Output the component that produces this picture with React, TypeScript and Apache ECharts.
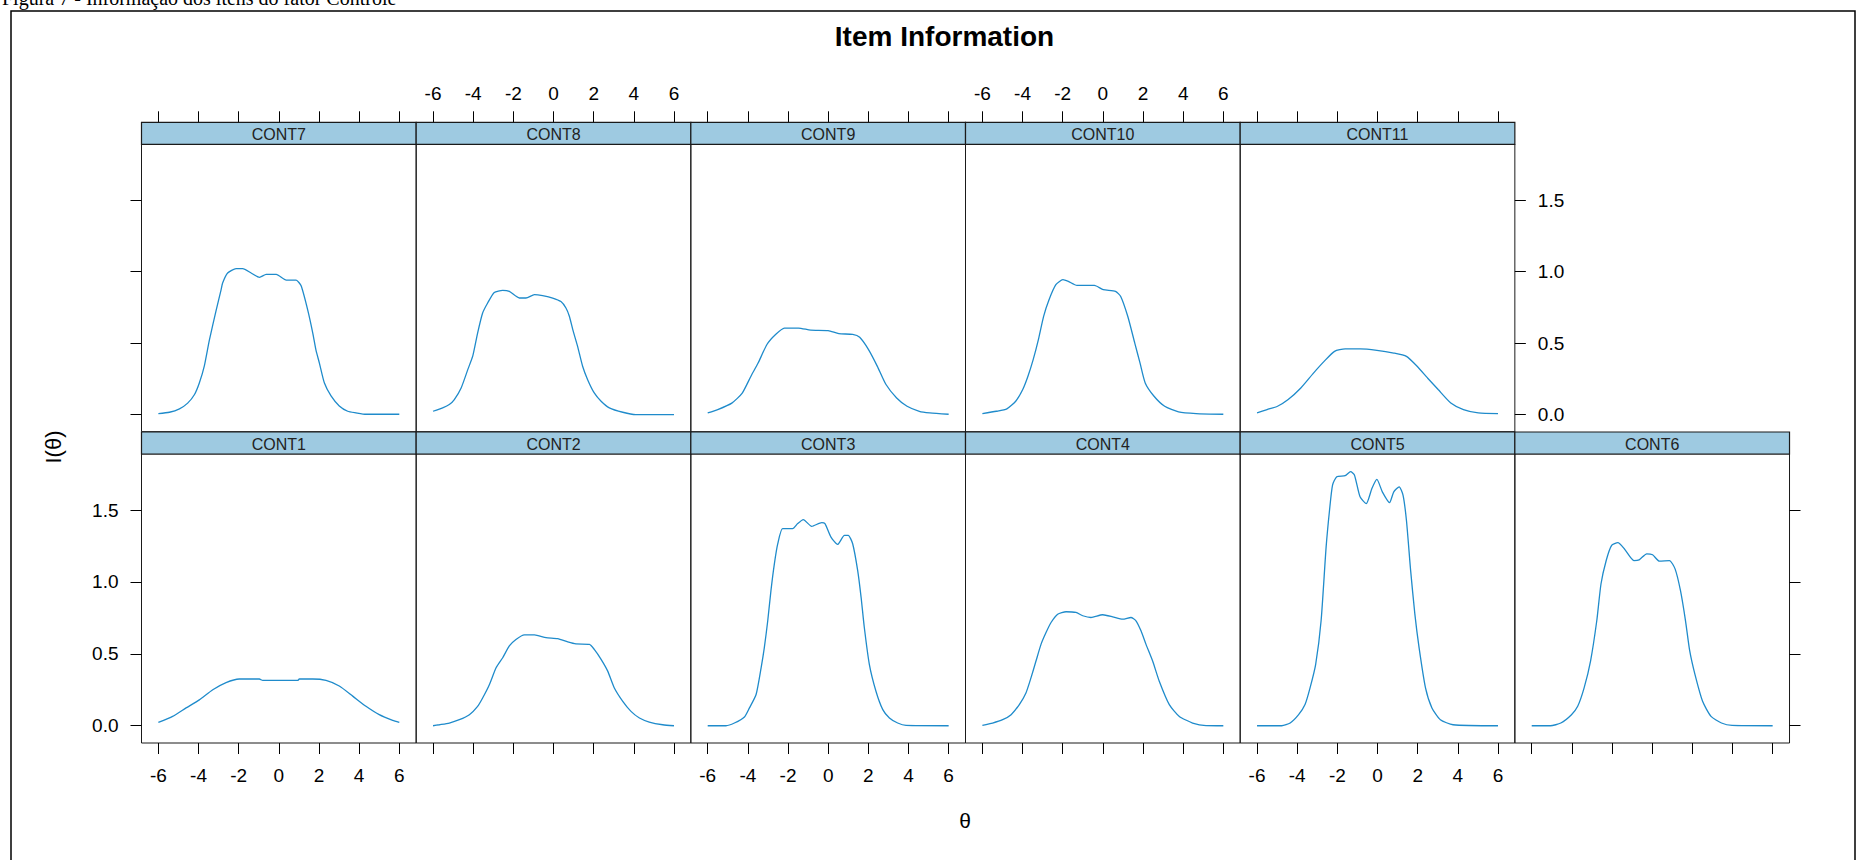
import { useEffect, useRef } from "react";
import * as echarts from "echarts";

// ---- data (theta, information) ----
const THETA_TICKS = [-6, -4, -2, 0, 2, 4, 6];
const INFO_TICKS = [0, 0.5, 1, 1.5];
const TOP_ROW = ["CONT7", "CONT8", "CONT9", "CONT10", "CONT11"];
const BOTTOM_ROW = ["CONT1", "CONT2", "CONT3", "CONT4", "CONT5", "CONT6"];

const CONT1 = [[-6,0.023],[-5.29,0.065],[-4.62,0.124],[-3.96,0.18],[-3.29,0.25],[-2.63,0.3],[-1.97,0.325],[-0.97,0.325],[-0.8,0.315],[0.94,0.315],[1.02,0.325],[1.69,0.325],[2.35,0.315],[3.01,0.276],[3.68,0.206],[4.34,0.135],[5,0.077],[5.67,0.037],[6,0.023]];
const CONT2 = [[-6,0.0],[-5.68,0.007],[-5.19,0.019],[-4.69,0.042],[-4.19,0.077],[-3.78,0.135],[-3.53,0.193],[-3.19,0.287],[-2.86,0.403],[-2.53,0.473],[-2.2,0.555],[-1.87,0.6],[-1.45,0.632],[-0.95,0.632],[-0.37,0.613],[0.21,0.606],[0.71,0.583],[1.12,0.569],[1.79,0.566],[2.03,0.531],[2.37,0.462],[2.7,0.38],[3.03,0.263],[3.45,0.17],[3.86,0.1],[4.28,0.054],[4.77,0.026],[5.44,0.007],[6,0.0]];
const CONT3 = [[-6,0],[-5.09,0],[-4.67,0.019],[-4.17,0.061],[-3.92,0.124],[-3.59,0.217],[-3.34,0.403],[-3.18,0.543],[-3.01,0.73],[-2.85,0.94],[-2.68,1.126],[-2.51,1.266],[-2.27,1.371],[-1.77,1.371],[-1.52,1.406],[-1.24,1.434],[-0.82,1.387],[-0.32,1.413],[-0.16,1.406],[0.14,1.312],[0.47,1.261],[0.81,1.324],[1.0,1.324],[1.22,1.266],[1.47,1.079],[1.64,0.893],[1.8,0.683],[2.05,0.427],[2.38,0.24],[2.72,0.112],[3.05,0.054],[3.46,0.019],[3.88,0.002],[6,0]];
const CONT4 = [[-6,0.003],[-5.49,0.019],[-4.99,0.042],[-4.57,0.077],[-4.16,0.147],[-3.83,0.228],[-3.58,0.333],[-3.33,0.45],[-3.08,0.566],[-2.83,0.648],[-2.58,0.718],[-2.25,0.776],[-1.83,0.793],[-1.34,0.788],[-1.0,0.765],[-0.59,0.753],[-0.01,0.772],[0.49,0.758],[0.99,0.741],[1.4,0.753],[1.65,0.73],[1.9,0.66],[2.15,0.566],[2.48,0.45],[2.81,0.31],[3.31,0.147],[3.81,0.065],[4.47,0.019],[5.14,0.001],[6,0]];
const CONT5 = [[-6,0],[-4.77,0],[-4.35,0.019],[-3.93,0.077],[-3.61,0.147],[-3.36,0.263],[-3.08,0.427],[-2.81,0.73],[-2.56,1.242],[-2.39,1.499],[-2.24,1.674],[-2.03,1.732],[-1.61,1.739],[-1.34,1.767],[-1.15,1.744],[-0.87,1.592],[-0.56,1.545],[-0.28,1.65],[-0.03,1.713],[0.24,1.627],[0.6,1.552],[0.81,1.627],[1.08,1.662],[1.27,1.604],[1.44,1.429],[1.65,1.079],[1.86,0.776],[2.07,0.543],[2.39,0.263],[2.71,0.124],[3.13,0.042],[3.76,0.007],[6,0]];
const CONT6 = [[-6,0],[-5.07,0],[-4.55,0.019],[-4.02,0.077],[-3.71,0.135],[-3.39,0.263],[-3.07,0.45],[-2.76,0.73],[-2.55,0.986],[-2.29,1.149],[-2.02,1.254],[-1.71,1.273],[-1.39,1.231],[-0.91,1.149],[-0.65,1.154],[-0.27,1.196],[0.02,1.189],[0.36,1.145],[0.86,1.149],[1.14,1.091],[1.41,0.939],[1.66,0.73],[1.87,0.52],[2.13,0.357],[2.51,0.17],[2.93,0.065],[3.45,0.019],[3.98,0.002],[6,0]];
const CONT7 = [[-6,0.007],[-5.45,0.016],[-4.95,0.04],[-4.54,0.08],[-4.2,0.14],[-3.96,0.22],[-3.71,0.34],[-3.46,0.52],[-3.12,0.73],[-2.88,0.87],[-2.8,0.92],[-2.55,0.99],[-2.13,1.02],[-1.8,1.02],[-1.38,0.99],[-0.96,0.96],[-0.63,0.98],[-0.13,0.98],[0.37,0.94],[0.86,0.94],[1.11,0.9],[1.44,0.73],[1.69,0.57],[1.85,0.45],[2.02,0.36],[2.27,0.22],[2.6,0.13],[3.01,0.06],[3.43,0.023],[3.84,0.012],[4.34,0.002],[6,0.002]];
const CONT8 = [[-6,0.023],[-5.52,0.047],[-5.19,0.07],[-4.94,0.105],[-4.6,0.186],[-4.27,0.314],[-4.02,0.41],[-3.78,0.57],[-3.53,0.71],[-3.28,0.78],[-2.95,0.854],[-2.53,0.868],[-2.2,0.861],[-1.7,0.815],[-1.37,0.815],[-0.95,0.838],[-0.54,0.831],[-0.04,0.815],[0.37,0.79],[0.62,0.745],[0.79,0.687],[0.96,0.594],[1.2,0.477],[1.45,0.338],[1.7,0.244],[2.03,0.151],[2.37,0.093],[2.78,0.047],[3.45,0.016],[4.1,0.0],[6,0.0]];
const CONT9 = [[-6,0.012],[-5.5,0.035],[-4.8,0.08],[-4.28,0.15],[-3.84,0.27],[-3.49,0.36],[-3.05,0.49],[-2.62,0.56],[-2.18,0.605],[-1.48,0.605],[-0.87,0.59],[0,0.587],[0.53,0.566],[1.22,0.56],[1.57,0.54],[2.01,0.454],[2.45,0.337],[2.88,0.21],[3.41,0.116],[3.93,0.058],[4.54,0.023],[5.06,0.012],[6,0.002]];
const CONT10 = [[-6,0.007],[-5.3,0.023],[-4.78,0.04],[-4.34,0.093],[-3.99,0.175],[-3.73,0.268],[-3.47,0.384],[-3.21,0.524],[-2.95,0.687],[-2.68,0.803],[-2.34,0.908],[-1.99,0.943],[-1.72,0.931],[-1.29,0.903],[-0.42,0.903],[0.02,0.873],[0.63,0.861],[0.89,0.826],[1.24,0.687],[1.59,0.5],[1.85,0.361],[2.11,0.221],[2.55,0.128],[3.08,0.058],[3.77,0.019],[4.65,0.007],[6,0.002]];
const CONT11 = [[-6,0.012],[-5.5,0.035],[-4.98,0.058],[-4.45,0.105],[-3.82,0.186],[-3.19,0.29],[-2.66,0.372],[-2.14,0.442],[-1.61,0.459],[-0.87,0.459],[-0.03,0.449],[0.81,0.43],[1.44,0.407],[1.97,0.338],[2.49,0.256],[3.02,0.175],[3.65,0.081],[4.28,0.035],[5.02,0.012],[6,0.007]];

const CURVES: Record<string, number[][]> = {
  CONT1, CONT2, CONT3, CONT4, CONT5, CONT6, CONT7, CONT8, CONT9, CONT10, CONT11,
};

// ---- layout / style ----
const LEFT0 = 141.5;
const PW = 274.67;
const STRIP_H = 22;
const ROW_TOP = [144.3, 454];
const ROW_H = [287.4, 289];
const X_MIN = -6.84;
const X_MAX = 6.84;
const Y_MIN = -0.12;
const Y_MAX = 1.89;
const LINE = "#1f8bcb";
const STRIP = "#9ecae1";
const FONT = "'Liberation Sans', Arial, sans-serif";

export default function App() {
  const ref = useRef<HTMLDivElement>(null);

  useEffect(() => {
    const chart = echarts.init(ref.current!, null, { renderer: "svg" });

    const panels = [
      ...TOP_ROW.map((name, col) => ({ name, row: 0, col })),
      ...BOTTOM_ROW.map((name, col) => ({ name, row: 1, col })),
    ];

    const grid: any[] = [];
    const xAxis: any[] = [];
    const yAxis: any[] = [];
    const series: any[] = [];
    const graphics: any[] = [];

    panels.forEach((p, i) => {
      const left = LEFT0 + p.col * PW;
      const top = ROW_TOP[p.row];
      grid.push({
        left,
        top,
        width: PW,
        height: ROW_H[p.row],
        show: true,
        borderColor: "#1a1a1a",
        borderWidth: 1,
        backgroundColor: "transparent",
        containLabel: false,
        outerBoundsMode: "none",
      });
      const xLabel = p.row === 0 ? p.col === 1 || p.col === 3 : p.col % 2 === 0;
      xAxis.push({
        gridIndex: i,
        type: "value",
        min: X_MIN,
        max: X_MAX,
        position: p.row === 0 ? "top" : "bottom",
        offset: p.row === 0 ? STRIP_H : 0,
        axisLine: { show: false, onZero: false },
        splitLine: { show: false },
        axisTick: {
          show: true,
          inside: false,
          length: 11,
          customValues: THETA_TICKS,
          lineStyle: { color: "#000", width: 1 },
        },
        axisLabel: {
          show: xLabel,
          customValues: THETA_TICKS,
          margin: p.row === 0 ? 19 : 23,
          fontSize: 19,
          color: "#000",
          fontFamily: FONT,
          formatter: (v: number) => String(v),
        },
      });
      let yPos: "left" | "right" | null = null;
      let yLbl = false;
      if (p.col === 0) {
        yPos = "left";
        yLbl = p.row === 1;
      } else if (p.row === 0 && p.col === 4) {
        yPos = "right";
        yLbl = true;
      } else if (p.row === 1 && p.col === 5) {
        yPos = "right";
      }
      yAxis.push({
        gridIndex: i,
        type: "value",
        min: Y_MIN,
        max: Y_MAX,
        position: yPos || "left",
        show: yPos !== null,
        axisLine: { show: false, onZero: false },
        splitLine: { show: false },
        axisTick: {
          show: yPos !== null,
          inside: false,
          length: 11,
          customValues: INFO_TICKS,
          lineStyle: { color: "#000", width: 1 },
        },
        axisLabel: {
          show: yLbl,
          customValues: INFO_TICKS,
          margin: 23,
          fontSize: 19,
          color: "#000",
          fontFamily: FONT,
          formatter: (v: number) => v.toFixed(1),
        },
      });
      series.push({
        type: "line",
        name: p.name,
        xAxisIndex: i,
        yAxisIndex: i,
        data: CURVES[p.name],
        showSymbol: false,
        symbol: "none",
        smooth: 0.2,
        silent: true,
        lineStyle: { color: LINE, width: 1.3 },
      });
      // strip
      graphics.push({
        type: "rect",
        shape: { x: left, y: top - STRIP_H, width: PW, height: STRIP_H },
        style: { fill: STRIP, stroke: "#1a1a1a", lineWidth: 1.2 },
        z: 10,
      });
      graphics.push({
        type: "text",
        x: left + PW / 2,
        y: top - STRIP_H / 2 + 1,
        style: {
          text: p.name,
          fill: "#222",
          font: `16px ${FONT}`,
          align: "center",
          verticalAlign: "middle",
        },
        z: 11,
      });
    });

    // frame, caption, titles
    graphics.push({
      type: "rect",
      shape: { x: 11, y: 11, width: 1844, height: 900 },
      style: { fill: "none", stroke: "#000", lineWidth: 1.5 },
      z: 1,
    });
    graphics.push({
      type: "text",
      x: 2,
      y: -2,
      style: {
        text: "Figura 7 - Informação dos itens do fator Controle",
        fill: "#000",
        font: "20px 'Liberation Serif', 'Times New Roman', serif",
        align: "left",
        verticalAlign: "middle",
      },
      z: 12,
    });
    graphics.push({
      type: "text",
      x: 944.5,
      y: 36,
      style: {
        text: "Item Information",
        fill: "#000",
        font: `bold 28px ${FONT}`,
        align: "center",
        verticalAlign: "middle",
      },
    });
    graphics.push({
      type: "text",
      x: 965,
      y: 820,
      style: {
        text: "θ",
        fill: "#000",
        font: `21px ${FONT}`,
        align: "center",
        verticalAlign: "middle",
      },
    });
    graphics.push({
      type: "text",
      x: 53,
      y: 447,
      rotation: Math.PI / 2,
      style: {
        text: "I(θ)",
        fill: "#000",
        font: `22px ${FONT}`,
        align: "center",
        verticalAlign: "middle",
      },
    });

    chart.setOption({
      animation: false,
      backgroundColor: "#fff",
      grid,
      xAxis,
      yAxis,
      series,
      graphic: { elements: graphics },
    });

    return () => chart.dispose();
  }, []);

  return (
    <div
      ref={ref}
      style={{ position: "absolute", left: 0, top: 0, width: 1863, height: 860 }}
    />
  );
}
